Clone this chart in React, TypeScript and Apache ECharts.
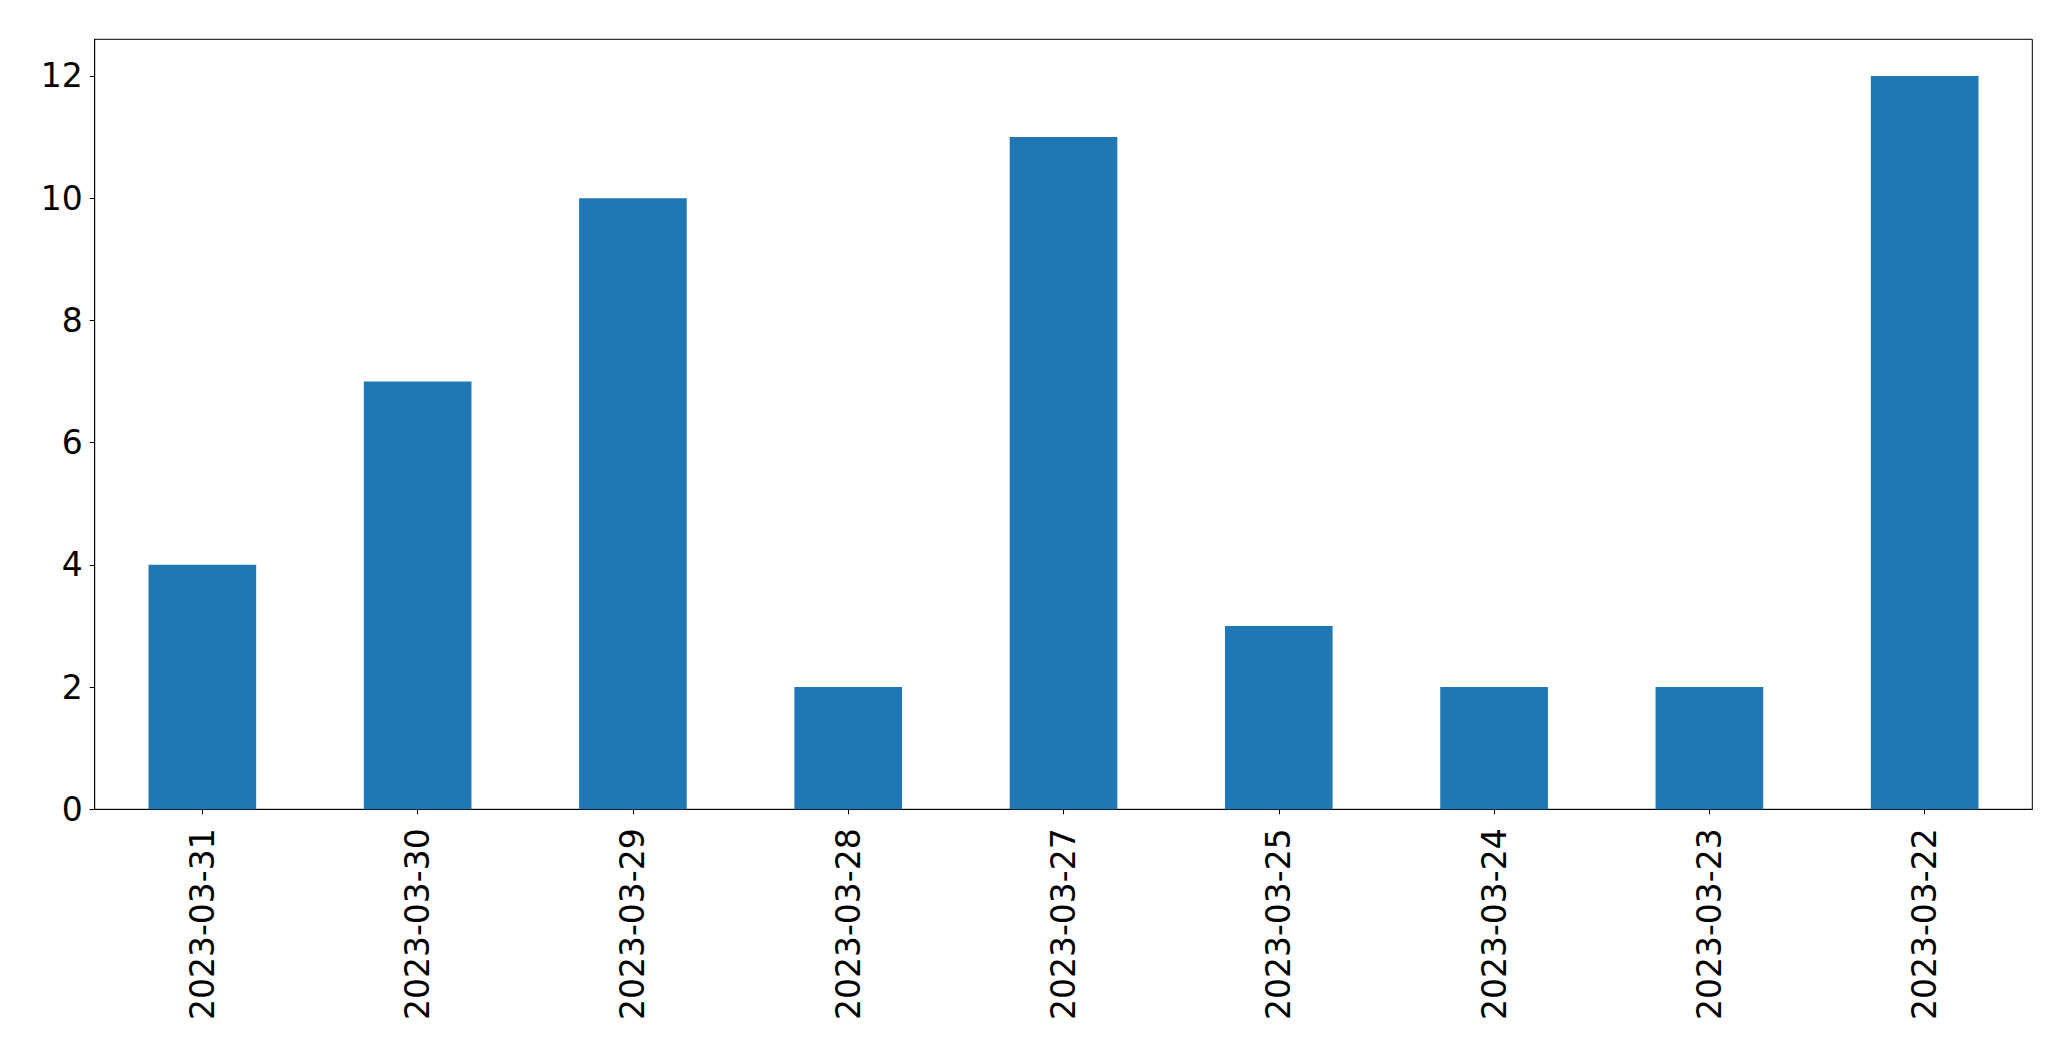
import React, { useEffect, useRef } from "react";
import * as echarts from "echarts";

const categories = [
  "2023-03-31",
  "2023-03-30",
  "2023-03-29",
  "2023-03-28",
  "2023-03-27",
  "2023-03-25",
  "2023-03-24",
  "2023-03-23",
  "2023-03-22",
];
const values = [4, 7, 10, 2, 11, 3, 2, 2, 12];
const yTicks = [0, 2, 4, 6, 8, 10, 12];

export default function App() {
  const ref = useRef<HTMLDivElement>(null);
  useEffect(() => {
    if (!ref.current) return;
    const chart = echarts.init(ref.current, null, { renderer: "svg" });
    const font = "DejaVu Sans";
    chart.setOption({
      animation: false,
      backgroundColor: "#ffffff",
      grid: {
        left: 94.7,
        right: 38.7,
        top: 39.3,
        bottom: 251.7,
        show: true,
        borderColor: "#000000",
        borderWidth: 1,
        backgroundColor: "transparent",
      },
      xAxis: {
        type: "category",
        data: categories,
        axisLine: { show: true, lineStyle: { color: "#000000", width: 1 } },
        axisTick: { show: true, alignWithLabel: true, length: 5, lineStyle: { color: "#000000", width: 1 } },
        axisLabel: {
          rotate: 90,
          margin: 19,
          fontSize: 33,
          fontFamily: font,
          color: "#000000",
          interval: 0,
        },
        splitLine: { show: false },
      },
      yAxis: {
        type: "value",
        min: 0,
        max: 12.6,
        interval: 2,
        axisLine: { show: true, lineStyle: { color: "#000000", width: 1 } },
        axisTick: { show: true, length: 5, customValues: yTicks, lineStyle: { color: "#000000", width: 1 } },
        axisLabel: {
          margin: 12,
          fontSize: 33,
          fontFamily: font,
          color: "#000000",
          customValues: yTicks,
        },
        splitLine: { show: false },
      },
      series: [
        {
          type: "bar",
          data: values,
          barWidth: "50%",
          itemStyle: { color: "#1f77b4" },
        },
      ],
    });
    return () => chart.dispose();
  }, []);
  return (
    <div
      ref={ref}
      style={{ position: "fixed", left: 0, top: 0, width: 2071, height: 1061 }}
    />
  );
}
